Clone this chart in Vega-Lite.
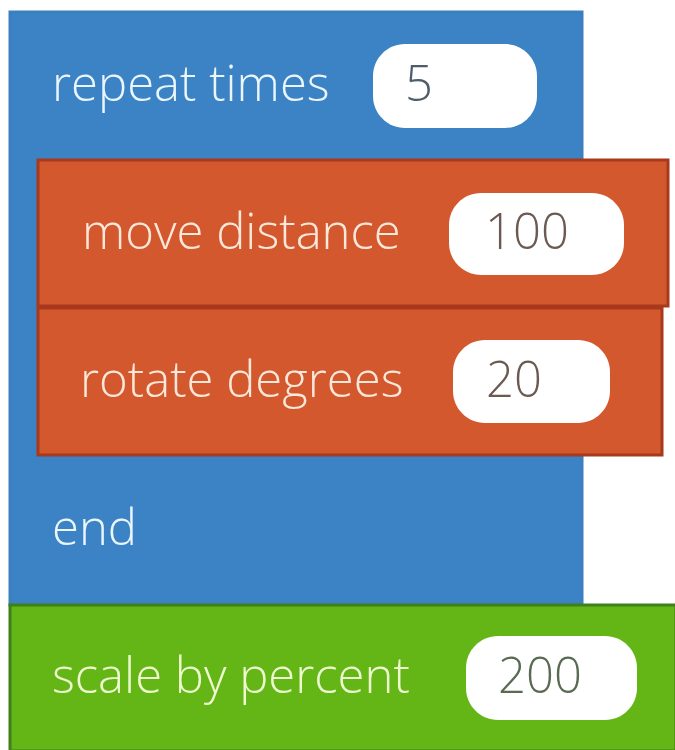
{
  "$schema": "https://vega.github.io/schema/vega-lite/v6.json",
  "width": 675,
  "height": 750,
  "padding": 0,
  "autosize": {"type": "none"},
  "background": "#ffffff",
  "config": {"view": {"stroke": null}},
  "datasets": {
    "blocks": [
      {"block": "repeat", "kind": "control", "x0": 10, "x1": 582, "y0": 12, "y1": 605},
      {"block": "move", "kind": "motion", "x0": 38, "x1": 668, "y0": 160, "y1": 306},
      {"block": "rotate", "kind": "motion", "x0": 38, "x1": 662, "y0": 308, "y1": 455},
      {"block": "scale", "kind": "looks", "x0": 10, "x1": 676, "y0": 605, "y1": 751}
    ],
    "pills": [
      {"block": "repeat", "kind": "control", "value": "5", "x0": 373, "x1": 537, "y0": 44, "y1": 128, "tx": 405, "ty": 101},
      {"block": "move", "kind": "motion", "value": "100", "x0": 449, "x1": 624, "y0": 193, "y1": 275, "tx": 485, "ty": 249},
      {"block": "rotate", "kind": "motion", "value": "20", "x0": 453, "x1": 610, "y0": 340, "y1": 423, "tx": 486, "ty": 397},
      {"block": "scale", "kind": "looks", "value": "200", "x0": 466, "x1": 637, "y0": 636, "y1": 720, "tx": 498, "ty": 693}
    ],
    "labels": [
      {"block": "repeat", "kind": "control", "label": "repeat times", "tx": 52, "ty": 101},
      {"block": "move", "kind": "motion", "label": "move distance", "tx": 82, "ty": 249},
      {"block": "rotate", "kind": "motion", "label": "rotate degrees", "tx": 80, "ty": 397},
      {"block": "end", "kind": "control", "label": "end", "tx": 52, "ty": 545},
      {"block": "scale", "kind": "looks", "label": "scale by percent", "tx": 52, "ty": 693}
    ]
  },
  "layer": [
    {
      "data": {"name": "blocks"},
      "mark": {"type": "rect", "strokeWidth": 3},
      "encoding": {
        "x": {"field": "x0", "type": "quantitative", "scale": {"domain": [0, 675], "nice": false, "zero": false}, "axis": null},
        "x2": {"field": "x1"},
        "y": {"field": "y0", "type": "quantitative", "scale": {"domain": [0, 750], "nice": false, "zero": false, "reverse": true}, "axis": null},
        "y2": {"field": "y1"},
        "fill": {"field": "kind", "type": "nominal", "legend": null, "scale": {"domain": ["control", "motion", "looks"], "range": ["#3b83c4", "#d4582e", "#64b516"]}},
        "stroke": {"field": "kind", "type": "nominal", "legend": null, "scale": {"domain": ["control", "motion", "looks"], "range": ["#3a7fbf", "#a8391c", "#3f8018"]}}
      }
    },
    {
      "data": {"name": "pills"},
      "mark": {"type": "rect", "cornerRadius": 32, "fill": "#ffffff"},
      "encoding": {
        "x": {"field": "x0", "type": "quantitative"},
        "x2": {"field": "x1"},
        "y": {"field": "y0", "type": "quantitative"},
        "y2": {"field": "y1"}
      }
    },
    {
      "data": {"name": "labels"},
      "mark": {"type": "text", "align": "left", "baseline": "alphabetic", "font": "Open Sans", "fontWeight": 300, "fontSize": 49},
      "encoding": {
        "x": {"field": "tx", "type": "quantitative"},
        "y": {"field": "ty", "type": "quantitative"},
        "text": {"field": "label"},
        "fill": {"field": "kind", "type": "nominal", "legend": null, "scale": {"domain": ["control", "motion", "looks"], "range": ["#eaf5fc", "#fbe8da", "#eef9cf"]}}
      }
    },
    {
      "data": {"name": "pills"},
      "mark": {"type": "text", "align": "left", "baseline": "alphabetic", "font": "Open Sans", "fontWeight": 300, "fontSize": 49},
      "encoding": {
        "x": {"field": "tx", "type": "quantitative"},
        "y": {"field": "ty", "type": "quantitative"},
        "text": {"field": "value"},
        "fill": {"field": "kind", "type": "nominal", "legend": null, "scale": {"domain": ["control", "motion", "looks"], "range": ["#4f5d6b", "#6b5a52", "#5a6b52"]}}
      }
    }
  ],
  "resolve": {"scale": {"fill": "independent", "stroke": "independent"}}
}
